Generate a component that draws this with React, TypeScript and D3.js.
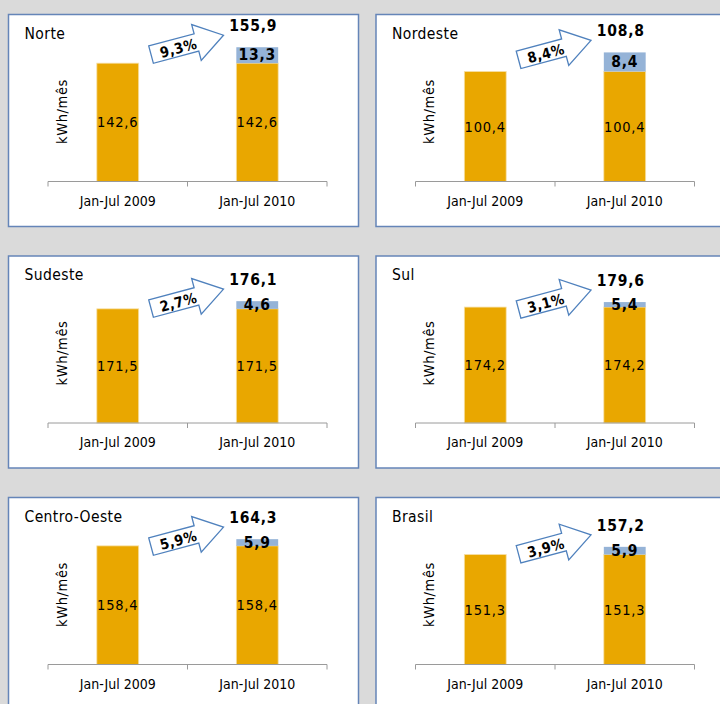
import React from "react";
import * as d3 from "d3";

const regions = ["Norte", "Nordeste", "Sudeste", "Sul", "Centro-Oeste", "Brasil"];
const categories = ["Jan-Jul 2009", "Jan-Jul 2010"];
const base2009 = [142.6, 100.4, 171.5, 174.2, 158.4, 151.3];
const increase2010 = [13.3, 8.4, 4.6, 5.4, 5.9, 5.9];
const total2010 = [155.9, 108.8, 176.1, 179.6, 164.3, 157.2];
const growth = ["9,3%", "8,4%", "2,7%", "3,1%", "5,9%", "3,9%"];
const axisMin = [44, 52, 103, 49, 54, 67];
const axisMax = [169, 118, 193, 211, 186, 182];
const yLabel = "kWh/mês";

const FONT = "'DejaVu Sans Condensed', 'DejaVu Sans', sans-serif";
const ORANGE = "#e9a700";
const BLUE = "#95b3d7";
const fmt = (v: number) => d3.format(".1f")(v).replace(".", ",");

const PW = 350;
const PH = 212;

function Panel({ i }: { i: number }) {
  const col = i % 2;
  const row = Math.floor(i / 2);
  const px = 8.5 + col * 367.5;
  const py = 14.5 + row * 241.5;
  const axisY = 167;
  const y = d3.scaleLinear().domain([axisMin[i], axisMax[i]]).range([axisY, 17]);
  const x = d3.scaleBand().domain(categories).range([39.5, 318.5]).padding(0);
  const bw = x.bandwidth() * 0.3;
  const cx = (c: string) => (x(c) as number) + x.bandwidth() / 2;
  const base = base2009[i];
  const top = base + increase2010[i];
  const c1 = cx(categories[0]);
  const c2 = cx(categories[1]);
  const baseTop = y(base);
  const blueTop = y(top);
  const tipX = (x(categories[1]) as number) + 36;
  const tipY = blueTop - 12;
  const arrow = [
    [-75, -9], [-28, -9], [-28, -18.5], [0, 0], [-28, 18.5], [-28, 9], [-75, 9],
  ];
  const arrowPath = d3.line()(arrow as [number, number][]) + "Z";
  const ticks = [x(categories[0]) as number, x(categories[1]) as number, (x(categories[1]) as number) + x.bandwidth()];
  const numStyle = { letterSpacing: "0.8px" };
  return (
    <g transform={`translate(${px},${py})`}>
      <rect x={0} y={0} width={PW} height={PH} fill="#ffffff" stroke="#6585b8" strokeWidth={1.5} />
      <text x={16} y={24} fontSize={15.5} fontFamily={FONT} fill="#000" style={{ letterSpacing: "0.4px" }}>{regions[i]}</text>
      <text
        transform={`translate(53,97) rotate(-90)`}
        textAnchor="middle"
        dominantBaseline="central"
        fontSize={14.5}
        fontFamily={FONT}
        fill="#000"
        style={{ letterSpacing: "0.6px" }}
      >
        {yLabel}
      </text>
      {/* bars */}
      <rect x={c1 - bw / 2} y={baseTop} width={bw} height={axisY - baseTop} fill={ORANGE} stroke="#f6dfa6" strokeWidth={0.8} />
      <rect x={c2 - bw / 2} y={baseTop} width={bw} height={axisY - baseTop} fill={ORANGE} stroke="#f6dfa6" strokeWidth={0.8} />
      <rect x={c2 - bw / 2} y={blueTop} width={bw} height={baseTop - blueTop} fill={BLUE} />
      {/* axis */}
      <line x1={ticks[0]} x2={ticks[2]} y1={axisY} y2={axisY} stroke="#9a9a9a" strokeWidth={1} />
      {ticks.map((t, k) => (
        <line key={k} x1={t} x2={t} y1={axisY} y2={axisY + 5} stroke="#9a9a9a" strokeWidth={1} />
      ))}
      {categories.map((c) => (
        <text key={c} x={cx(c)} y={191} textAnchor="middle" fontSize={14} fontFamily={FONT} fill="#000">{c}</text>
      ))}
      {/* value labels */}
      <text x={c1} y={(baseTop + axisY) / 2} textAnchor="middle" dominantBaseline="central" fontSize={14.5} fontFamily={FONT} fill="#000" style={numStyle}>{fmt(base)}</text>
      <text x={c2} y={(baseTop + axisY) / 2} textAnchor="middle" dominantBaseline="central" fontSize={14.5} fontFamily={FONT} fill="#000" style={numStyle}>{fmt(base)}</text>
      <text x={c2} y={(baseTop + blueTop) / 2} textAnchor="middle" dominantBaseline="central" fontSize={15.5} fontWeight="bold" fontFamily={FONT} fill="#000" style={numStyle}>{fmt(increase2010[i])}</text>
      <text x={c2 - 4} y={blueTop - 21} textAnchor="middle" dominantBaseline="central" fontSize={15.5} fontWeight="bold" fontFamily={FONT} fill="#000" style={numStyle}>{fmt(total2010[i])}</text>
      {/* arrow */}
      <g transform={`translate(${tipX},${tipY}) rotate(-15)`}>
        <path d={arrowPath} fill="#ffffff" stroke="#4f81bd" strokeWidth={1.3} strokeLinejoin="miter" />
        <text x={-47} y={1} textAnchor="middle" dominantBaseline="central" fontSize={14.5} fontWeight="bold" fontFamily={FONT} fill="#000" style={{ letterSpacing: "0.4px" }}>{growth[i]}</text>
      </g>
    </g>
  );
}

export default function App() {
  return (
    <svg
      width={720}
      height={704}
      style={{ position: "fixed", left: 0, top: 0, display: "block" }}
      xmlns="http://www.w3.org/2000/svg"
    >
      <rect x={0} y={0} width={720} height={704} fill="#dadada" />
      {regions.map((r, i) => (
        <Panel key={r} i={i} />
      ))}
    </svg>
  );
}
